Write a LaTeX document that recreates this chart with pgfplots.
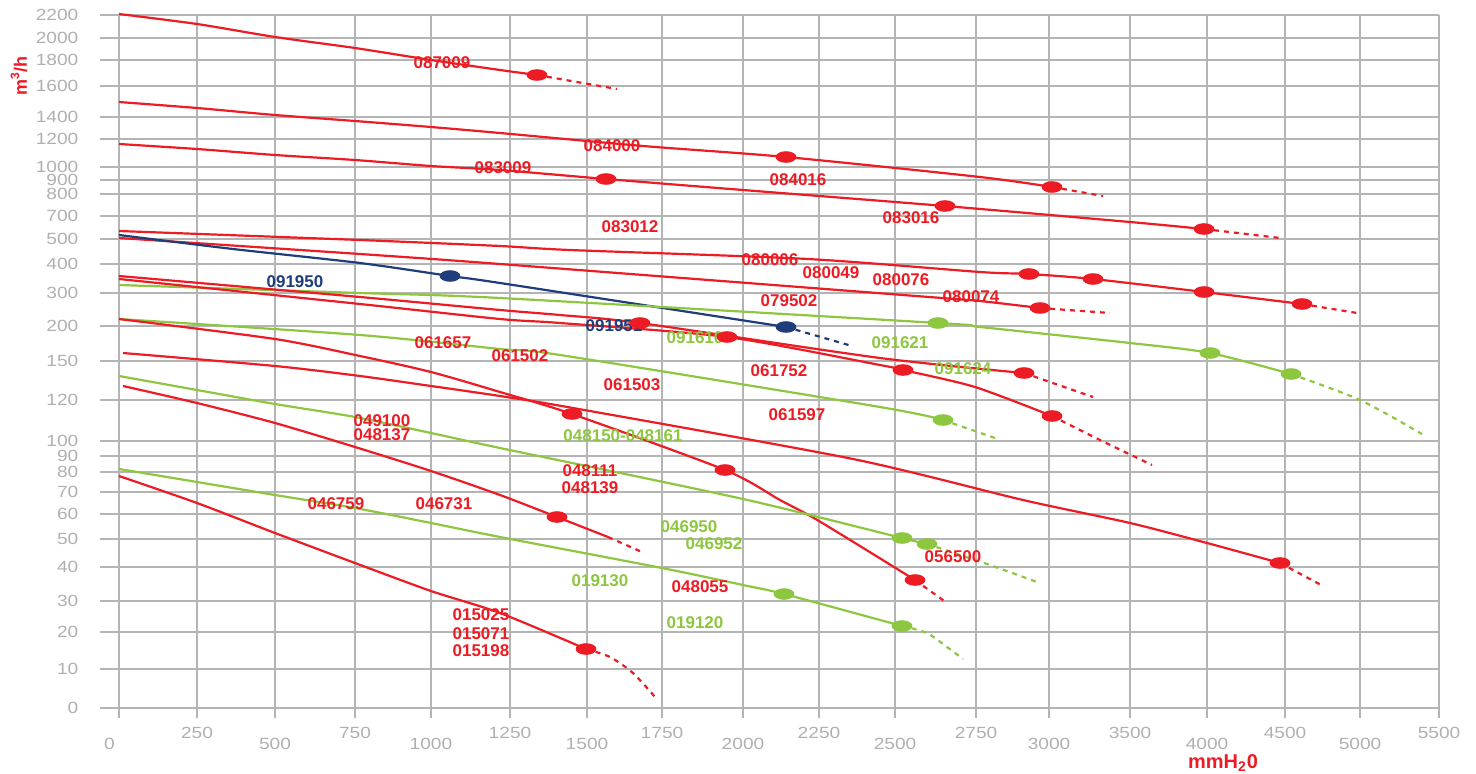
\documentclass[border=0pt]{standalone}
\usepackage{fontspec}
\setmainfont{Liberation Sans}
\usepackage{pgfplots}
\pgfplotsset{compat=1.18}

\definecolor{fanred}{HTML}{ED1C24}
\definecolor{fangreen}{HTML}{8DC63F}
\definecolor{fannavy}{HTML}{1F3D7A}
\definecolor{gridgray}{HTML}{B4B4B4}
\definecolor{ticktext}{HTML}{B0B0B0}

% elliptic working-point marker
\pgfdeclareplotmark{ell}{\pgfpathellipse{\pgfpointorigin}{\pgfqpoint{5.2pt}{0pt}}{\pgfqpoint{0pt}{2.9pt}}\pgfusepathqfill}

% the chart's axes are piecewise: coordinates are in chart units
% (x: position along the pressure scale, y: position along the flow scale)
\tikzset{
  curve/.style={line width=1.1pt, line join=round, smooth, tension=0.45},
  ext/.style={line width=1.1pt, dash pattern=on 2.5pt off 2.5pt, smooth, tension=0.45},
  lab/.style={font=\fontsize{8.5}{9}\selectfont\bfseries, inner sep=0pt},
}

\begin{document}
\begin{tikzpicture}
\begin{axis}[
  x=0.5pt, y=0.5pt,
  xmin=-19, xmax=1320, ymin=-10, ymax=693,
  axis line style={draw=none},
  tick style={draw=none},
  grid=major,
  grid style={gridgray, line width=0.9pt},
  clip=false,
  ticklabel style={font=\fontsize{8.1}{9}\selectfont, text=ticktext, xscale=1.18},
  xtick={0,78,156,236,312,391,468,543,624,700,776,857,930,1011,1088,1166,1241,1320},
  xticklabels={{0\rule{8pt}{0pt}},{\raisebox{5.5pt}{250}},500,{\raisebox{5.5pt}{750}},1000,{\raisebox{5.5pt}{1250}},
    1500,{\raisebox{5.5pt}{1750}},2000,{\raisebox{5.5pt}{2250}},2500,{\raisebox{5.5pt}{2750}},
    3000,{\raisebox{5.5pt}{3500}},4000,{\raisebox{5.5pt}{4500}},5000,{\raisebox{5.5pt}{5500}}},
  xticklabel style={anchor=base, inner sep=0pt, yshift=-15.5pt},
  ytick={0,39,76,107,141,169,194,216,236,252,267,308,347,382,415,444,469,492,514,528,541,569,591,622,648,670,693},
  yticklabels={0,10,20,30,40,50,60,70,80,90,100,120,150,200,300,400,500,700,800,900,1000,1200,1400,1600,1800,2000,2200},
  yticklabel style={anchor=east, inner sep=0pt, xshift=-9pt},
]

% 087009
\addplot[curve, fanred] coordinates {(0,694) (78,684) (156,671) (236,660) (312,648) (381,638) (418,633)};
\addplot[ext, fanred] coordinates {(418,633) (498,619)};
\addplot[only marks, mark=ell, fanred] coordinates {(418,633)};

% 084000 / 084016
\addplot[curve, fanred] coordinates {(0,606) (78,600) (156,593) (236,587) (312,581) (381,575) (524,562) (667,551) (861,531) (933,521)};
\addplot[ext, fanred] coordinates {(933,521) (984,512)};
\addplot[only marks, mark=ell, fanred] coordinates {(667,551) (933,521)};

% 083009 / 083012 / 083016
\addplot[curve, fanred] coordinates {(0,564) (78,559) (156,553) (236,548) (312,542) (381,538) (487,529) (624,518) (826,502) (1011,486) (1085,479)};
\addplot[ext, fanred] coordinates {(1085,479) (1161,470)};
\addplot[only marks, mark=ell, fanred] coordinates {(487,529) (826,502) (1085,479)};

% 080006 / 080049 / 080076
\addplot[curve, fanred] coordinates {(0,477) (241,468) (381,462) (451,458) (689,449) (861,436) (910,434) (974,429) (1085,416) (1183,404)};
\addplot[ext, fanred] coordinates {(1183,404) (1238,395)};
\addplot[only marks, mark=ell, fanred] coordinates {(910,434) (974,429) (1085,416) (1183,404)};

% 080074
\addplot[curve, fanred] coordinates {(0,470) (241,454) (381,444) (823,410) (861,407) (921,400)};
\addplot[ext, fanred] coordinates {(921,400) (991,395)};
\addplot[only marks, mark=ell, fanred] coordinates {(921,400)};

% 091950 / 091951
\addplot[curve, fannavy] coordinates {(0,473) (114,459) (241,445) (331,432) (381,425) (667,381)};
\addplot[ext, fannavy] coordinates {(667,381) (733,362)};
\addplot[only marks, mark=ell, fannavy] coordinates {(331,432) (667,381)};

% 091621 / 091624
\addplot[curve, fangreen] coordinates {(0,423) (241,415) (381,410) (819,385) (861,381) (1011,365) (1091,355) (1172,334)};
\addplot[ext, fangreen] coordinates {(1172,334) (1241,308) (1303,274)};
\addplot[only marks, mark=ell, fangreen] coordinates {(819,385) (1091,355) (1172,334)};

% 079502 / 061752
\addplot[curve, fanred] coordinates {(0,432) (241,411) (381,398) (441,393) (521,385) (761,350) (905,335)};
\addplot[ext, fanred] coordinates {(905,335) (974,311)};
\addplot[only marks, mark=ell, fanred] coordinates {(521,385) (905,335)};

% 061502 / 061503
\addplot[curve, fanred] coordinates {(0,429) (241,404) (381,389) (441,385) (608,371) (761,343) (784,338) (856,321) (933,292)};
\addplot[ext, fanred] coordinates {(933,292) (981,268) (1033,243)};
\addplot[only marks, mark=ell, fanred] coordinates {(608,371) (784,338) (933,292)};

% 048150-048161
\addplot[curve, fangreen] coordinates {(0,389) (241,373) (381,359) (441,353) (761,301) (824,288)};
\addplot[ext, fangreen] coordinates {(824,288) (876,270)};
\addplot[only marks, mark=ell, fangreen] coordinates {(824,288)};

% 061657 / 048111 / 048139 / 048055
\addplot[curve, fanred] coordinates {(0,389) (156,369) (241,352) (312,336) (381,316) (453,294) (606,238) (661,208) (700,187) (796,128)};
\addplot[ext, fanred] coordinates {(796,128) (828,105)};
\addplot[only marks, mark=ell, fanred] coordinates {(453,294) (606,238) (796,128)};

% 061597 / 056500
\addplot[curve, fanred] coordinates {(4,355) (156,342) (241,332) (312,322) (381,312) (454,300) (734,249) (904,208) (1011,185) (1088,165) (1161,145)};
\addplot[ext, fanred] coordinates {(1161,145) (1204,122)};
\addplot[only marks, mark=ell, fanred] coordinates {(1161,145)};

% 046950 / 046952
\addplot[curve, fangreen] coordinates {(0,332) (78,318) (156,304) (236,291) (312,275) (381,260) (624,209) (783,170) (808,164)};
\addplot[ext, fangreen] coordinates {(808,164) (868,144) (918,126)};
\addplot[only marks, mark=ell, fangreen] coordinates {(783,170) (808,164)};

% 049100 / 048137 / 046731
\addplot[curve, fanred] coordinates {(4,322) (78,305) (156,285) (236,261) (312,237) (381,213) (438,191) (489,171)};
\addplot[ext, fanred] coordinates {(489,171) (523,156)};
\addplot[only marks, mark=ell, fanred] coordinates {(438,191)};

% 019130 / 019120
\addplot[curve, fangreen] coordinates {(0,239) (78,226) (156,213) (236,200) (312,185) (381,171) (543,140) (624,123) (665,114) (783,82)};
\addplot[ext, fangreen] coordinates {(783,82) (808,75) (828,61) (844,49)};
\addplot[only marks, mark=ell, fangreen] coordinates {(665,114) (783,82)};

% 015025 / 015071 / 015198
\addplot[curve, fanred] coordinates {(0,232) (78,205) (156,175) (236,145) (312,117) (381,95) (467,59)};
\addplot[ext, fanred] coordinates {(467,59) (491,51) (514,35) (536,11)};
\addplot[only marks, mark=ell, fanred] coordinates {(467,59)};

% curve labels
\node[lab, text=fanred] at (axis cs:323,645) {087009};
\node[lab, text=fanred] at (axis cs:493,562) {084000};
\node[lab, text=fanred] at (axis cs:384,540) {083009};
\node[lab, text=fanred] at (axis cs:679,528) {084016};
\node[lab, text=fanred] at (axis cs:792,490) {083016};
\node[lab, text=fanred] at (axis cs:511,481) {083012};
\node[lab, text=fanred] at (axis cs:651,448) {080006};
\node[lab, text=fanred] at (axis cs:712,435) {080049};
\node[lab, text=fanred] at (axis cs:782,428) {080076};
\node[lab, text=fanred] at (axis cs:852,411) {080074};
\node[lab, text=fanred] at (axis cs:670,407) {079502};
\node[lab, text=fannavy] at (axis cs:176,426) {091950};
\node[lab, text=fannavy] at (axis cs:495,382) {091951};
\node[lab, text=fangreen] at (axis cs:576,370) {091610};
\node[lab, text=fanred] at (axis cs:324,365) {061657};
\node[lab, text=fanred] at (axis cs:401,352) {061502};
\node[lab, text=fanred] at (axis cs:513,323) {061503};
\node[lab, text=fanred] at (axis cs:660,337) {061752};
\node[lab, text=fangreen] at (axis cs:781,365) {091621};
\node[lab, text=fangreen] at (axis cs:844,339) {091624};
\node[lab, text=fanred] at (axis cs:678,293) {061597};
\node[lab, text=fangreen] at (axis cs:504,272) {048150-048161};
\node[lab, text=fanred] at (axis cs:263,287) {049100};
\node[lab, text=fanred] at (axis cs:263,273) {048137};
\node[lab, text=fanred] at (axis cs:217,204) {046759};
\node[lab, text=fanred] at (axis cs:325,204) {046731};
\node[lab, text=fanred] at (axis cs:471,237) {048111};
\node[lab, text=fanred] at (axis cs:471,220) {048139};
\node[lab, text=fangreen] at (axis cs:570,181) {046950};
\node[lab, text=fangreen] at (axis cs:595,164) {046952};
\node[lab, text=fanred] at (axis cs:834,151) {056500};
\node[lab, text=fangreen] at (axis cs:481,127) {019130};
\node[lab, text=fanred] at (axis cs:581,121) {048055};
\node[lab, text=fangreen] at (axis cs:576,85) {019120};
\node[lab, text=fanred] at (axis cs:362,93) {015025};
\node[lab, text=fanred] at (axis cs:362,74) {015071};
\node[lab, text=fanred] at (axis cs:362,57) {015198};

% axis titles
\node[font=\fontsize{9}{10}\selectfont\bfseries, text=fanred, rotate=90, inner sep=0pt] at (axis cs:-100,632) {m\textsuperscript{3}/h};
\node[font=\fontsize{10}{11}\selectfont\bfseries, text=fanred, anchor=base, inner sep=0pt] at (axis cs:1104,-60) {mmH\textsubscript{2}0};

\coordinate (bbl) at (axis cs:-119,-65);
\coordinate (btr) at (axis cs:1357,708);
\end{axis}
\pgfresetboundingbox
\path[use as bounding box] (bbl) rectangle (btr);
\end{tikzpicture}
\end{document}
